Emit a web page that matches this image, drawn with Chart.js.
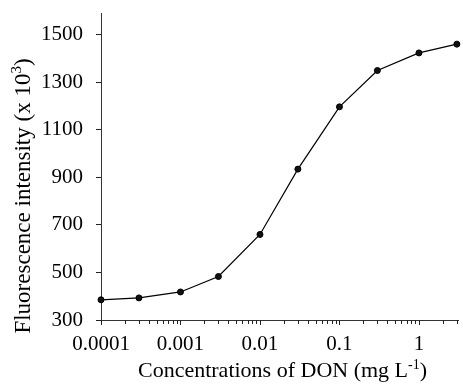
<!DOCTYPE html>
<html>
<head>
<meta charset="utf-8">
<script src="https://cdn.jsdelivr.net/npm/chart.js@4"></script>
<style>
html,body{margin:0;padding:0;background:#fff;}
canvas{display:block;}
</style>
</head>
<body>
<canvas id="c" width="463" height="385"></canvas>
<script>
// Data
const concentrations = [0.0001, 0.0003, 0.001, 0.003, 0.01, 0.03, 0.1, 0.3, 1, 3];
const intensity = [385, 393, 418, 483, 660, 935, 1197, 1350, 1424, 1461];
const yTickValues = [300, 500, 700, 900, 1100, 1300, 1500];
const xLabelValues = [0.0001, 0.001, 0.01, 0.1, 1];
const xLabelTexts = ['0.0001', '0.001', '0.01', '0.1', '1'];

const FONT = "'Liberation Serif', 'Times New Roman', serif";

function isPow10(v) {
  const l = Math.log10(v);
  return Math.abs(l - Math.round(l)) < 1e-6;
}
function labelFor(v) {
  for (let i = 0; i < xLabelValues.length; i++) {
    if (Math.abs(Math.log10(v) - Math.log10(xLabelValues[i])) < 1e-6) return xLabelTexts[i];
  }
  return '';
}

function drawSegs(ctx, segs, cx, cy, size) {
  const main = size + "px " + FONT, sup = Math.round(size * 0.64) + "px " + FONT;
  let total = 0;
  segs.forEach(s => { ctx.font = s.sup ? sup : main; s.w = ctx.measureText(s.t).width; total += s.w; });
  let x = cx - total / 2;
  ctx.textBaseline = 'alphabetic';
  ctx.textAlign = 'left';
  segs.forEach(s => {
    ctx.font = s.sup ? sup : main;
    ctx.fillText(s.t, x, cy + (s.sup ? -size * 0.37 : 0));
    x += s.w;
  });
}

const customPlugin = {
  id: 'custom',
  afterDraw(chart) {
    const ctx = chart.ctx;
    const xs = chart.scales.x;
    const area = chart.chartArea;
    ctx.save();
    ctx.strokeStyle = '#222';
    ctx.lineWidth = 1;
    xs.ticks.forEach(t => {
      const v = t.value;
      const m = v / Math.pow(10, Math.floor(Math.log10(v) + 1e-9));
      if (Math.abs(m - Math.round(m)) > 1e-6) return;
      const px = Math.round(xs.getPixelForValue(v)) + 0.5;
      const len = isPow10(v) ? 5 : 4;
      ctx.beginPath();
      ctx.moveTo(px, area.bottom);
      ctx.lineTo(px, area.bottom + len);
      ctx.stroke();
    });
    ctx.fillStyle = '#000';
    drawSegs(ctx, [{t: 'Concentrations of DON (mg L'}, {t: '-1', sup: true}, {t: ')'}],
      (area.left + area.right) / 2 + 3, 377, 22);
    ctx.translate(30, 196);
    ctx.rotate(-Math.PI / 2);
    drawSegs(ctx, [{t: 'Fluorescence intensity (x 10'}, {t: '3', sup: true}, {t: ')'}], 0, 0, 23);
    ctx.restore();
  }
};

new Chart(document.getElementById('c'), {
  type: 'line',
  data: {
    datasets: [{
      data: concentrations.map((x, i) => ({x: x, y: intensity[i]})),
      borderColor: '#000',
      borderWidth: 1.2,
      pointRadius: 3,
      pointBackgroundColor: '#111',
      pointBorderColor: '#000',
      pointBorderWidth: 1,
      tension: 0,
      clip: false
    }]
  },
  options: {
    responsive: false,
    animation: false,
    devicePixelRatio: 1,
    layout: {padding: {left: 0, top: 13, right: 2, bottom: 0}},
    plugins: {legend: {display: false}, tooltip: {enabled: false}},
    scales: {
      x: {
        type: 'logarithmic',
        min: 0.0001,
        max: 3.1,
        position: 'bottom',
        afterFit(s) { s.height = 65; s.paddingLeft = 0; s.paddingRight = 0; },
        grid: {drawOnChartArea: false, drawTicks: false},
        border: {display: true, color: '#333', width: 1, dash: [1, 1]},
        ticks: {
          autoSkip: false,
          maxRotation: 0,
          padding: 12,
          color: '#000',
          font: {family: FONT, size: 21},
          callback: (v) => labelFor(v)
        }
      },
      y: {
        type: 'linear',
        min: 300,
        max: 1592,
        afterFit(s) { s.width = 101; s.paddingTop = 0; s.paddingBottom = 0; },
        afterBuildTicks(s) { s.ticks = yTickValues.map(v => ({value: v})); },
        grid: {drawOnChartArea: false, drawTicks: true, tickLength: 5, color: '#222'},
        border: {display: true, color: '#333', width: 1, dash: [1, 1]},
        ticks: {
          padding: 13,
          color: '#000',
          font: {family: FONT, size: 21},
          callback: (v) => String(v)
        }
      }
    }
  },
  plugins: [customPlugin]
});
</script>
</body>
</html>
